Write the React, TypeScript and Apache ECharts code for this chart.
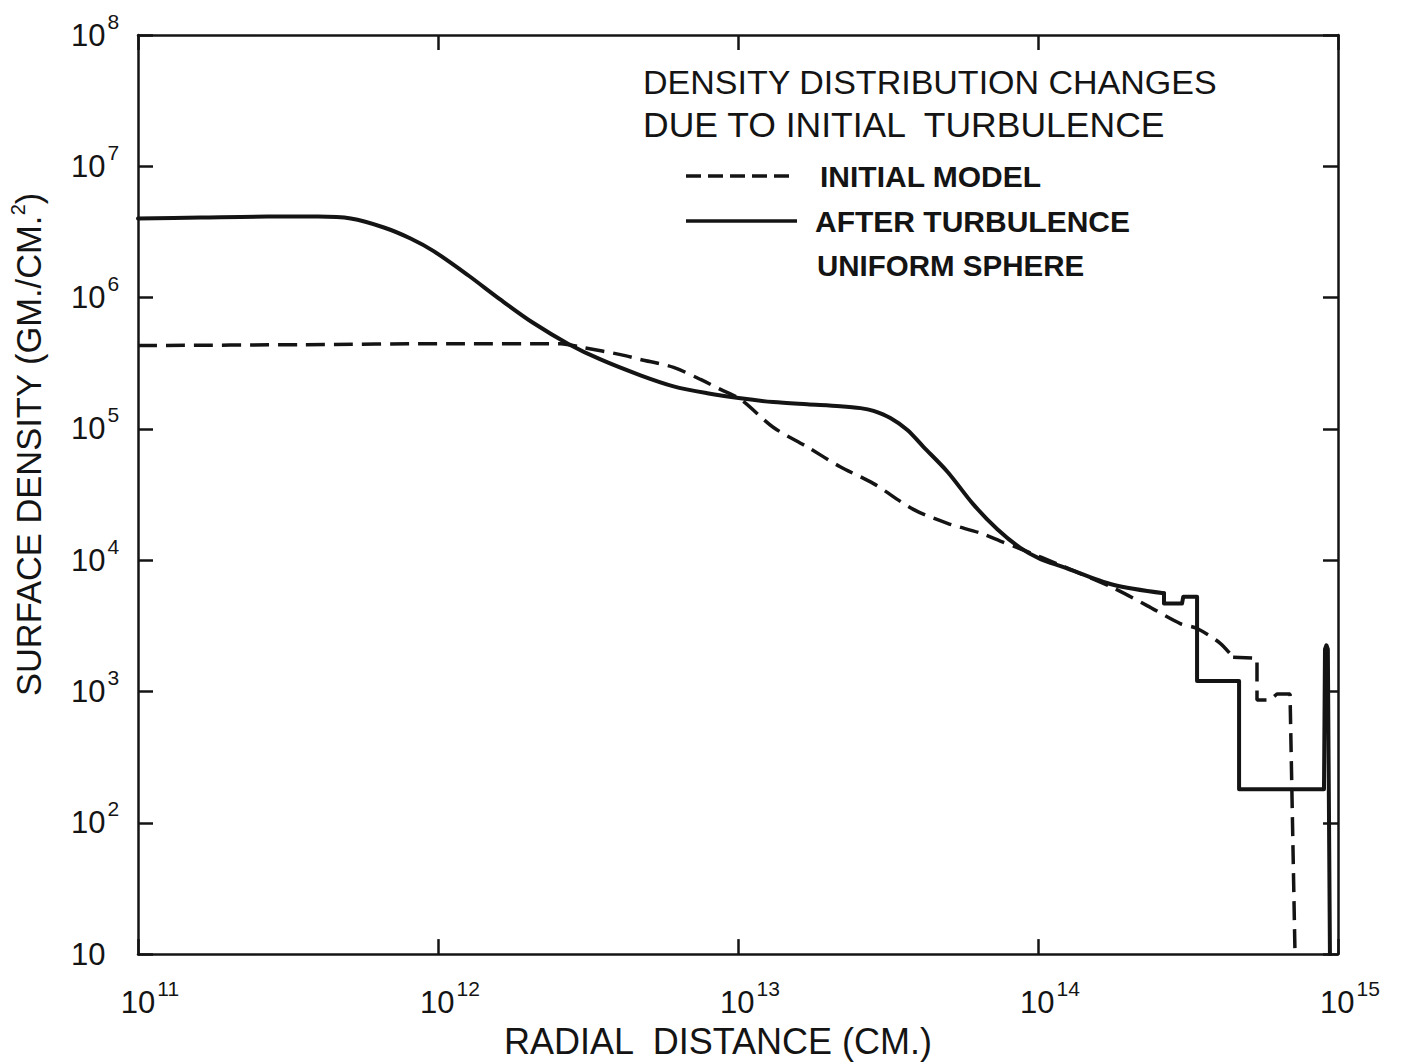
import React, { useEffect, useRef } from 'react';
import * as echarts from 'echarts';

// ---- data ----
const xMin = 1e11;
const xMax = 1e15;
const yMin = 10;
const yMax = 1e8;

const titleLines = ['DENSITY DISTRIBUTION CHANGES', 'DUE TO INITIAL  TURBULENCE'];
const legendLabels = ['INITIAL MODEL', 'AFTER TURBULENCE', 'UNIFORM SPHERE'];
const xAxisTitle = 'RADIAL  DISTANCE (CM.)';
const yAxisTitle = 'SURFACE DENSITY (GM./CM.';

// radial distance (cm), surface density (gm/cm^2) — smooth part of the "after turbulence" curve
const afterTurbulenceCurve: [number, number][] = [
  [1e11, 4.0e6], [1.62e11, 4.07e6], [2.71e11, 4.14e6], [3.98e11, 4.14e6], [5.12e11, 4.0e6],
  [6.6e11, 3.42e6], [8.1e11, 2.82e6], [9.7e11, 2.25e6], [1.26e12, 1.48e6], [1.62e12, 9.6e5],
  [2.08e12, 6.4e5], [2.71e12, 4.46e5], [3.48e12, 3.38e5], [4.73e12, 2.56e5], [6.1e12, 2.11e5],
  [7.9e12, 1.87e5], [1.02e13, 1.71e5], [1.31e13, 1.6e5], [1.7e13, 1.54e5], [2.19e13, 1.49e5],
  [2.56e13, 1.44e5], [2.83e13, 1.37e5], [3.22e13, 1.21e5], [3.67e13, 9.8e4], [4.15e13, 7.3e4],
  [4.99e13, 4.72e4], [6.09e13, 2.66e4], [7.32e13, 1.72e4], [8.73e13, 1.24e4], [1.02e14, 1.02e4],
  [1.21e14, 8.9e3], [1.78e14, 6.5e3], [2.63e14, 5.6e3],
];
// stepped outer part of the "after turbulence" curve
const afterTurbulenceSteps: [number, number][] = [
  [2.63e14, 5.6e3], [2.63e14, 4.67e3], [3.02e14, 4.67e3],
  [3.05e14, 5.27e3], [3.39e14, 5.27e3], [3.39e14, 1.2e3], [4.68e14, 1.2e3], [4.68e14, 180],
  [8.98e14, 180], [9.05e14, 2.1e3], [9.15e14, 2.25e3], [9.25e14, 2.1e3], [9.4e14, 10],
];

// smooth part of the initial model
const initialModelCurve: [number, number][] = [
  [1e11, 4.31e5], [3.49e11, 4.38e5], [1.1e12, 4.46e5], [2.56e12, 4.46e5], [3.06e12, 4.16e5],
  [4.06e12, 3.68e5], [4.73e12, 3.38e5], [6.1e12, 2.94e5], [7.5e12, 2.38e5], [8.74e12, 2.0e5],
  [1.02e13, 1.68e5], [1.31e13, 1.03e5], [1.7e13, 7.3e4], [2.19e13, 5.15e4], [2.83e13, 3.83e4],
  [3.84e13, 2.44e4], [4.99e13, 1.91e4], [6.42e13, 1.61e4], [7.49e13, 1.4e4], [8.73e13, 1.22e4],
  [1.21e14, 9.0e3], [1.78e14, 6.16e3], [2.31e14, 4.51e3], [2.98e14, 3.29e3], [3.39e14, 3.02e3],
  [4.05e14, 2.33e3], [4.47e14, 1.82e3],
];
// stepped outer part of the initial model
const initialModelSteps: [number, number][] = [
  [4.47e14, 1.82e3], [5.37e14, 1.79e3], [5.37e14, 863], [5.94e14, 863],
  [6.26e14, 958], [6.92e14, 958], [7.19e14, 10],
];

const INK = '#141414';
const FONT = '"Liberation Sans", Arial, sans-serif';

const expOf = (v: number) => Math.round(Math.log10(v));

export default function App() {
  const ref = useRef<HTMLDivElement>(null);

  useEffect(() => {
    if (!ref.current) return;
    const chart = echarts.init(ref.current, undefined, { renderer: 'svg' });

    const tickRich = {
      a: { fontSize: 31, fontFamily: FONT, color: INK, verticalAlign: 'middle' },
      ax: { fontSize: 31, fontFamily: FONT, color: INK, verticalAlign: 'middle', padding: [0, 0, 0, 24] },
      b: { fontSize: 21, fontFamily: FONT, color: INK, verticalAlign: 'top', padding: [0, 0, 28, 2] },
    };

    const frameAxisCommon = {
      axisLine: { show: true, onZero: false, lineStyle: { color: INK, width: 2.5 } },
      axisTick: { show: true, inside: true, length: 15, lineStyle: { color: INK, width: 2.5 } },
      minorTick: { show: false },
      splitLine: { show: false },
      minorSplitLine: { show: false },
    };

    const solidStyle = { color: INK, width: 4, join: 'round', cap: 'round' };
    const dashedStyle = { color: INK, width: 3.5, type: [19, 9] };

    chart.setOption({
      animation: false,
      backgroundColor: '#ffffff',
      grid: { left: 137, right: 68, top: 35, bottom: 103, containLabel: false },
      xAxis: [
        {
          type: 'log', logBase: 10, min: xMin, max: xMax, splitNumber: 4, position: 'bottom',
          ...frameAxisCommon,
          axisLabel: {
            show: true, margin: 24, showMinLabel: true, showMaxLabel: true,
            formatter: (v: number) => `{ax|10}{b|${expOf(v)}}`,
            rich: tickRich,
          },
          name: xAxisTitle, nameLocation: 'middle', nameGap: 64,
          nameTextStyle: { fontSize: 36, fontFamily: FONT, color: INK, padding: [0, 40, 0, 0] },
        },
        {
          type: 'log', logBase: 10, min: xMin, max: xMax, splitNumber: 4, position: 'top',
          ...frameAxisCommon,
          axisLabel: { show: false },
        },
      ],
      yAxis: [
        {
          type: 'log', logBase: 10, min: yMin, max: yMax, splitNumber: 7, position: 'left',
          ...frameAxisCommon,
          axisLabel: {
            show: true, margin: 67, align: 'left', showMinLabel: true, showMaxLabel: true,
            formatter: (v: number) => (expOf(v) === 1 ? '{a|10}' : `{a|10}{b|${expOf(v)}}`),
            rich: tickRich,
          },
          name: `{t|${yAxisTitle}}{s|2}{t|)}`,
          nameLocation: 'middle', nameRotate: 90, nameGap: 88,
          nameTextStyle: {
            padding: [0, 0, 0, 100],
            rich: {
              t: { fontSize: 34.5, fontFamily: FONT, color: INK, verticalAlign: 'middle' },
              s: { fontSize: 20, fontFamily: FONT, color: INK, verticalAlign: 'top', padding: [0, 0, 22, 0] },
            },
          },
        },
        {
          type: 'log', logBase: 10, min: yMin, max: yMax, splitNumber: 7, position: 'right',
          ...frameAxisCommon,
          axisLabel: { show: false },
        },
      ],
      series: [
        {
          name: legendLabels[1], type: 'line', xAxisIndex: 0, yAxisIndex: 0,
          data: afterTurbulenceCurve, smooth: 0.3,
          showSymbol: false, symbol: 'none', lineStyle: solidStyle, z: 3,
        },
        {
          name: legendLabels[1] + ' (steps)', type: 'line', xAxisIndex: 0, yAxisIndex: 0,
          data: afterTurbulenceSteps,
          showSymbol: false, symbol: 'none', lineStyle: solidStyle, z: 3,
        },
        {
          name: legendLabels[0], type: 'line', xAxisIndex: 0, yAxisIndex: 0,
          data: initialModelCurve, smooth: 0.3,
          showSymbol: false, symbol: 'none', lineStyle: dashedStyle, z: 2,
        },
        {
          name: legendLabels[0] + ' (steps)', type: 'line', xAxisIndex: 0, yAxisIndex: 0,
          data: initialModelSteps,
          showSymbol: false, symbol: 'none', lineStyle: dashedStyle, z: 2,
        },
      ],
      graphic: [
        { type: 'text', x: 643, y: 82, style: { text: titleLines[0], fontSize: 34, fontFamily: FONT, fill: INK, align: 'left', verticalAlign: 'middle' } },
        { type: 'text', x: 643, y: 125, style: { text: titleLines[1], fontSize: 35.5, fontFamily: FONT, fill: INK, align: 'left', verticalAlign: 'middle' } },
        { type: 'line', shape: { x1: 686, y1: 176, x2: 795, y2: 176 }, style: { stroke: INK, lineWidth: 3.5, lineDash: [15, 7] } },
        { type: 'text', x: 820, y: 176, style: { text: legendLabels[0], fontSize: 30, fontWeight: 'bold', fontFamily: FONT, fill: INK, align: 'left', verticalAlign: 'middle' } },
        { type: 'line', shape: { x1: 686, y1: 221, x2: 797, y2: 221 }, style: { stroke: INK, lineWidth: 3.5 } },
        { type: 'text', x: 815, y: 221, style: { text: legendLabels[1], fontSize: 30, fontWeight: 'bold', fontFamily: FONT, fill: INK, align: 'left', verticalAlign: 'middle' } },
        { type: 'text', x: 817, y: 265, style: { text: legendLabels[2], fontSize: 29.5, fontWeight: 'bold', fontFamily: FONT, fill: INK, align: 'left', verticalAlign: 'middle' } },
      ],
    });

    return () => chart.dispose();
  }, []);

  return (
    <div
      ref={ref}
      style={{ position: 'fixed', left: 0, top: 0, width: 1406, height: 1064, background: '#fff' }}
    />
  );
}
